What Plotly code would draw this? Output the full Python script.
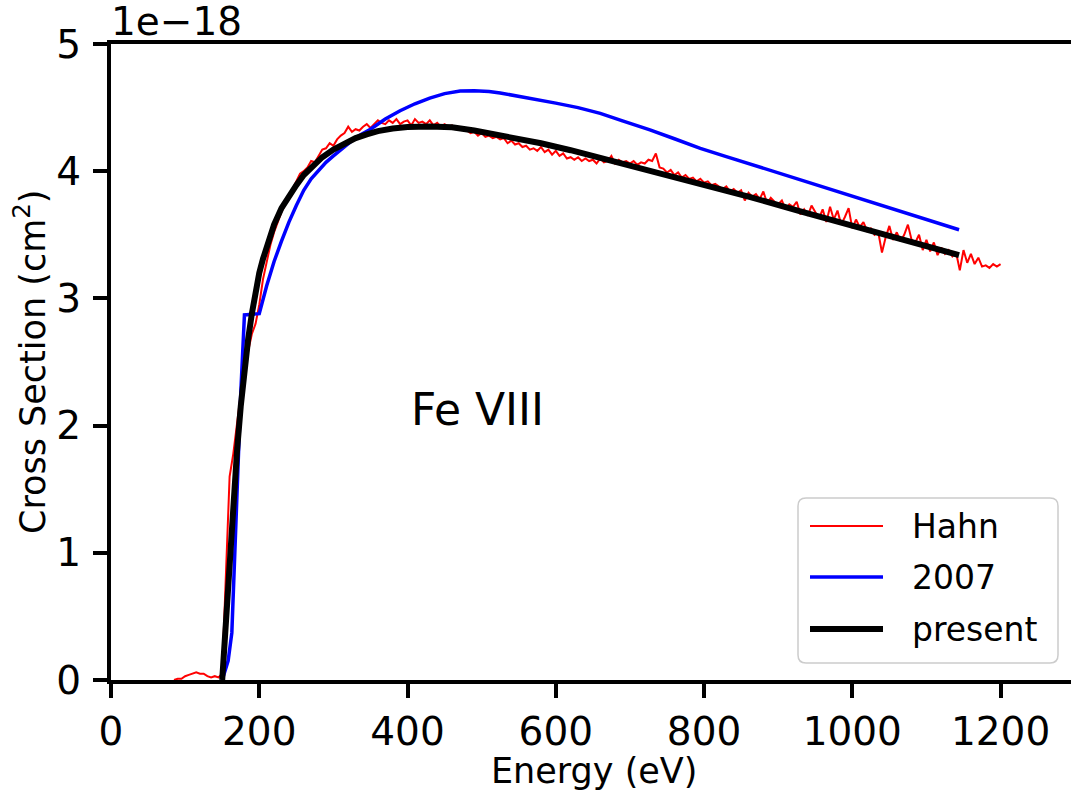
import numpy as np
import plotly.graph_objects as go

# ---------------- data (cross sections in units of 1e-18 cm^2) ----------------
hahn_energy = np.arange(85, 1201, 5)
hahn_sigma = [
    0.00, 0.01, 0.01, 0.03, 0.04, 0.05, 0.06, 0.05, 0.05, 0.03, 0.02, 0.03, 0.02, 0.05, 0.90, 1.60, 1.78, 2.02, 2.25, 2.45,
    2.60, 2.72, 2.80, 2.95, 3.15, 3.30, 3.42, 3.52, 3.60, 3.68, 3.74, 3.80, 3.86, 3.92, 3.98, 4.00, 4.03, 4.08, 4.07, 4.12,
    4.17, 4.18, 4.22, 4.20, 4.25, 4.28, 4.30, 4.35, 4.31, 4.33, 4.32, 4.35, 4.37, 4.34, 4.37, 4.40, 4.38, 4.37, 4.40, 4.38,
    4.41, 4.37, 4.39, 4.40, 4.36, 4.41, 4.38, 4.39, 4.37, 4.40, 4.36, 4.38, 4.35, 4.37, 4.35, 4.36, 4.33, 4.34, 4.33, 4.32,
    4.30, 4.31, 4.28, 4.30, 4.27, 4.28, 4.26, 4.27, 4.25, 4.26, 4.22, 4.24, 4.21, 4.22, 4.19, 4.20, 4.17, 4.18, 4.16, 4.19,
    4.15, 4.17, 4.13, 4.16, 4.12, 4.14, 4.10, 4.11, 4.09, 4.11, 4.08, 4.10, 4.08, 4.09, 4.06, 4.10, 4.07, 4.08, 4.12, 4.06,
    4.09, 4.07, 4.08, 4.06, 4.08, 4.05, 4.07, 4.06, 4.09, 4.08, 4.14, 4.03, 4.02, 3.99, 4.01, 3.97, 3.99, 3.95, 3.97, 3.94,
    3.95, 3.92, 3.94, 3.91, 3.92, 3.89, 3.90, 3.88, 3.86, 3.88, 3.84, 3.86, 3.83, 3.85, 3.77, 3.83, 3.80, 3.82, 3.78, 3.84,
    3.75, 3.79, 3.76, 3.74, 3.77, 3.70, 3.74, 3.72, 3.76, 3.66, 3.70, 3.65, 3.73, 3.68, 3.63, 3.70, 3.60, 3.72, 3.62, 3.69,
    3.58, 3.64, 3.71, 3.55, 3.62, 3.56, 3.60, 3.53, 3.55, 3.50, 3.52, 3.36, 3.48, 3.57, 3.46, 3.52, 3.45, 3.50, 3.58, 3.46,
    3.44, 3.50, 3.38, 3.46, 3.37, 3.44, 3.34, 3.40, 3.35, 3.38, 3.33, 3.36, 3.22, 3.38, 3.28, 3.35, 3.27, 3.32, 3.25, 3.26,
    3.24, 3.27, 3.25, 3.27,
]

ref2007_energy = [150, 158, 163, 166, 170, 175, 180, 190, 200, 210, 220, 230, 240, 250, 260, 270, 280, 290, 300, 310,
                  323, 335, 350, 370, 390, 410, 430, 450, 471, 490, 510, 525, 560, 600, 630, 660, 690, 727, 760, 795,
                  830, 860, 900, 930, 965, 1000, 1030, 1065, 1100, 1144]
ref2007_sigma = [0.0, 0.15, 0.37, 0.85, 1.55, 2.25, 2.87, 2.875, 2.88, 3.10, 3.29, 3.45, 3.60, 3.73, 3.85, 3.94, 4.01,
                 4.07, 4.12, 4.17, 4.23, 4.28, 4.33, 4.41, 4.475, 4.53, 4.575, 4.61, 4.63, 4.633, 4.627, 4.615, 4.58,
                 4.535, 4.50, 4.455, 4.395, 4.325, 4.255, 4.18, 4.115, 4.06, 3.99, 3.935, 3.87, 3.805, 3.75, 3.69,
                 3.62, 3.54]

present_energy = [150, 152, 155, 158, 162, 166, 170, 175, 180, 185, 190, 195, 200, 205, 210, 220, 230, 240, 250, 260,
                  270, 285, 300, 315, 330, 345, 360, 380, 400, 430, 460, 490, 520, 550, 580, 620, 660, 700, 750, 800,
                  860, 930, 1000, 1065, 1100, 1144]
present_sigma = [0.0, 0.2, 0.5, 0.8, 1.05, 1.45, 1.8, 2.15, 2.45, 2.68, 2.88, 3.05, 3.2, 3.31, 3.41, 3.58, 3.71, 3.81,
                 3.89, 3.97, 4.03, 4.11, 4.17, 4.22, 4.26, 4.29, 4.315, 4.335, 4.347, 4.352, 4.345, 4.32, 4.29, 4.255,
                 4.22, 4.165, 4.105, 4.045, 3.97, 3.895, 3.80, 3.685, 3.575, 3.47, 3.41, 3.34]

x_ticks = [0, 200, 400, 600, 800, 1000, 1200]
y_ticks = [0, 1, 2, 3, 4, 5]
legend_names = ["Hahn", "2007", "present"]
colors = ["#ff0000", "#0000ff", "#000000"]
widths = [2, 3.5, 6]

# ---------------- layout geometry ----------------
W, H = 1071, 791
L, R, T, B = 111, 0, 44, 111
PW, PH = W - L - R, H - T - B
FONT = "DejaVu Sans"


def pp(x, y):
    """pixel -> paper coordinates"""
    return (x - L) / PW, (H - B - y) / PH


fig = go.Figure()
series = [(hahn_energy, hahn_sigma), (ref2007_energy, ref2007_sigma), (present_energy, present_sigma)]
for (ex, sy), name, c, w in zip(series, legend_names, colors, widths):
    fig.add_trace(go.Scatter(x=ex, y=sy, mode="lines", name=name,
                             line=dict(color=c, width=w), showlegend=False))

axis_common = dict(showgrid=False, zeroline=False, showline=True, linecolor="black", linewidth=4,
                   ticks="outside", ticklen=14, tickwidth=4, tickcolor="black",
                   tickfont=dict(family=FONT, size=39, color="black"))
fig.update_xaxes(range=[0, 1295], tickvals=x_ticks, ticktext=[str(v) for v in x_ticks],
                 mirror=True, **axis_common)
fig.update_yaxes(range=[0, 5], tickvals=y_ticks, ticktext=[str(v) for v in y_ticks],
                 mirror=False, ticklabelstandoff=4, **axis_common)

annotations = []
# axis titles
ax, ay = pp(594, 771)
annotations.append(dict(text="Energy (eV)", x=ax, y=ay, xref="paper", yref="paper", showarrow=False,
                        xanchor="center", yanchor="middle", font=dict(family=FONT, size=35, color="black")))
ax, ay = pp(30, 362)
annotations.append(dict(text="Cross Section (cm<sup>2</sup>)", x=ax, y=ay, xref="paper", yref="paper",
                        showarrow=False, textangle=-90, xanchor="center", yanchor="middle",
                        font=dict(family=FONT, size=35, color="black")))
# offset text
ax, ay = pp(109, 22)
annotations.append(dict(text="1e\u221218", x=ax, y=ay, xref="paper", yref="paper", showarrow=False,
                        xanchor="left", yanchor="middle", font=dict(family=FONT, size=39, color="black")))
# label inside plot
annotations.append(dict(text="Fe VIII", x=494, y=2.13, xref="x", yref="y", showarrow=False,
                        xanchor="center", yanchor="middle", font=dict(family=FONT, size=44, color="black")))

# ---------------- hand-built legend ----------------
shapes = []
x0, y0 = pp(798, 663)
x1, y1 = pp(1058, 498)
rx, ry = 8 / PW, 8 / PH
path = (f"M {x0+rx},{y0} L {x1-rx},{y0} Q {x1},{y0} {x1},{y0+ry} L {x1},{y1-ry} Q {x1},{y1} {x1-rx},{y1} "
        f"L {x0+rx},{y1} Q {x0},{y1} {x0},{y1-ry} L {x0},{y0+ry} Q {x0},{y0} {x0+rx},{y0} Z")
shapes.append(dict(type="path", path=path, xref="paper", yref="paper", fillcolor="rgba(255,255,255,0.8)",
                   line=dict(color="#cccccc", width=1.5), layer="above"))
entry_y = [526, 577, 629]
for name, c, w, ey in zip(legend_names, colors, widths, entry_y):
    lx0, ly = pp(810, ey)
    lx1, _ = pp(883, ey)
    shapes.append(dict(type="line", x0=lx0, x1=lx1, y0=ly, y1=ly, xref="paper", yref="paper",
                       line=dict(color=c, width=w), layer="above"))
    tx, ty = pp(910, ey)
    annotations.append(dict(text=name, x=tx, y=ty, xref="paper", yref="paper", showarrow=False,
                            xanchor="left", yanchor="middle", font=dict(family=FONT, size=33, color="black")))

fig.update_layout(width=W, height=H, margin=dict(l=L, r=R, t=T, b=B, autoexpand=False),
                  paper_bgcolor="white", plot_bgcolor="white", showlegend=False,
                  font=dict(family=FONT, color="black"),
                  annotations=annotations, shapes=shapes)

fig.write_html("out.html")
